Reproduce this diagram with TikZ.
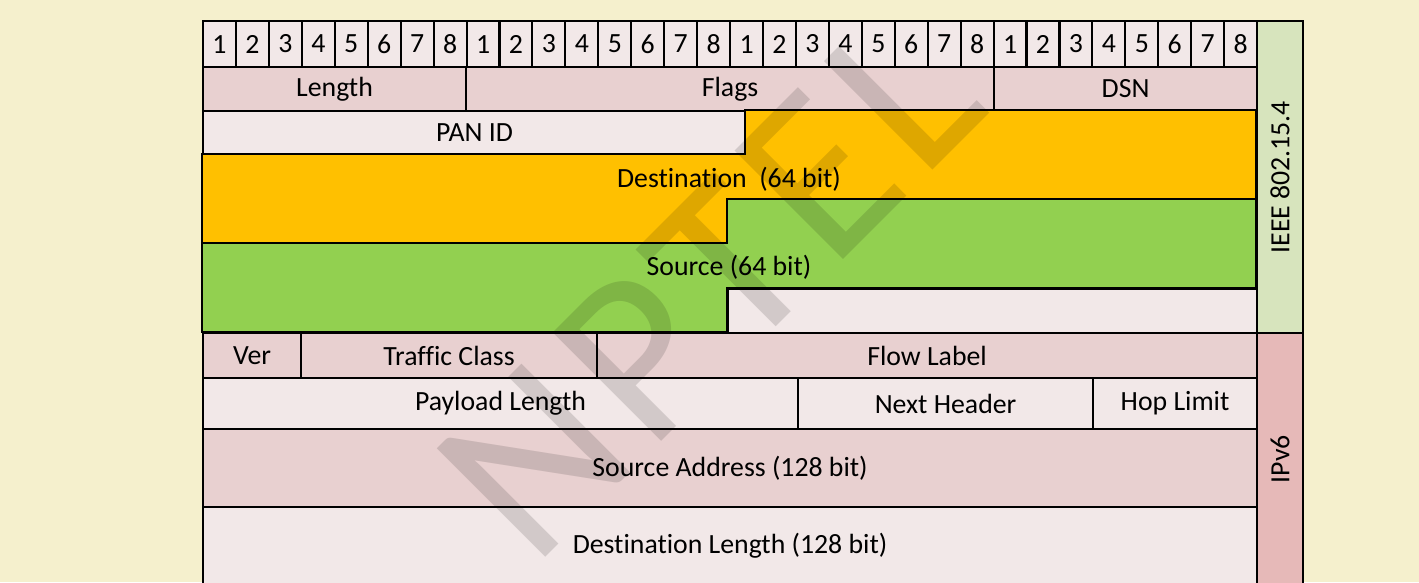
\documentclass[tikz,border=0pt]{standalone}
\usepackage{fontspec}
\setmainfont[Ligatures=NoCommon]{Carlito}
\newfontfamily\stampfont[Ligatures=NoCommon,LetterSpace=4]{Carlito}
\usetikzlibrary{positioning}
\definecolor{cream}{RGB}{245,240,205}
\definecolor{blush}{RGB}{242,232,232}
\definecolor{rose}{RGB}{232,208,208}
\definecolor{amber}{RGB}{255,192,0}
\definecolor{leaf}{RGB}{146,208,80}
\definecolor{sage}{RGB}{215,228,189}
\definecolor{coral}{RGB}{230,185,184}
\newcommand{\lblfont}{\fontsize{7.9}{9}\selectfont}
\tikzset{
  cell/.style={draw=black,line width=0.6pt,fill=#1,inner sep=0pt,anchor=north west,font=\lblfont},
  cell/.default=blush,
  bit/.style={cell,minimum width=0.329375cm,minimum height=0.46cm},
  side/.style={cell=#1,rotate=90,anchor=north east,minimum height=0.46cm},
  block/.style={draw=black,line width=0.6pt,fill=#1},
  tag/.style={font=\lblfont,inner sep=0pt},
  stamp/.style={font=\stampfont\fontsize{68}{68}\selectfont,text=black,text opacity=0.13,
    inner sep=0pt,rotate=45,anchor=base west},
}
% name, left, top, right, bottom, fill, text
\newcommand{\field}[7]{%
  \node[cell=#6,minimum width={(#4-#2)*0.01cm},minimum height={(#5-#3)*0.01cm}] (#1) at (#2,#3) {#7};}

\begin{document}
\begin{tikzpicture}[x=0.01cm,y=-0.01cm]
  \useasboundingbox[fill=cream] (0,0) rectangle (1419,582);
  % bit ruler
  \foreach \i in {0,...,31}{
    \pgfmathtruncatemacro{\bitno}{mod(\i,8)+1}
    \node[bit] (bit\i) at ({202+\i*32.9375},20) {\bitno};
  }
  % 802.15.4 frame
  \field{len}{202}{66}{465}{110}{rose}{Length}
  \field{flags}{465}{66}{993}{110}{rose}{Flags}
  \field{dsn}{993}{66}{1256}{110}{rose}{DSN}
  \field{pan}{202}{110}{745}{154}{blush}{PAN ID}
  \draw[block=amber] (745,110) -- (1256,110) -- (1256,199) -- (727,199) -- (727,243)
    -- (202,243) -- (202,154) -- (745,154) -- cycle;
  \draw[block=leaf] (727,199) -- (1256,199) -- (1256,288) -- (727,288) -- (727,332)
    -- (202,332) -- (202,243) -- (727,243) -- cycle;
  \field{pad}{727}{288}{1256}{332}{blush}{}
  \node[tag] (dst) at (729,179) {Destination\ \ (64 bit)};
  \node[tag] (src) at (729,267) {Source (64 bit)};
  % ipv6 header
  \field{ver}{202}{332}{300}{377}{rose}{Ver}
  \field{tc}{300}{332}{596}{377}{rose}{Traffic Class}
  \field{fl}{596}{332}{1256}{377}{rose}{Flow Label}
  \field{plen}{202}{377}{797}{428}{blush}{Payload Length}
  \field{nh}{797}{377}{1092}{428}{blush}{Next Header}
  \field{hop}{1092}{377}{1256}{428}{blush}{Hop Limit}
  \field{saddr}{202}{428}{1256}{506}{rose}{Source Address (128 bit)}
  \field{daddr}{202}{506}{1256}{584}{blush}{Destination Length (128 bit)}
  % layer tags
  \node[side=sage,minimum width=3.12cm] (ieee) at (1256,20) {IEEE 802.15.4};
  \node[side=coral,minimum width=2.52cm] (ipv) at (1256,332) {IPv6};
  \node[stamp] (wm) at (533,570) {NPTEL};
\end{tikzpicture}
\end{document}
